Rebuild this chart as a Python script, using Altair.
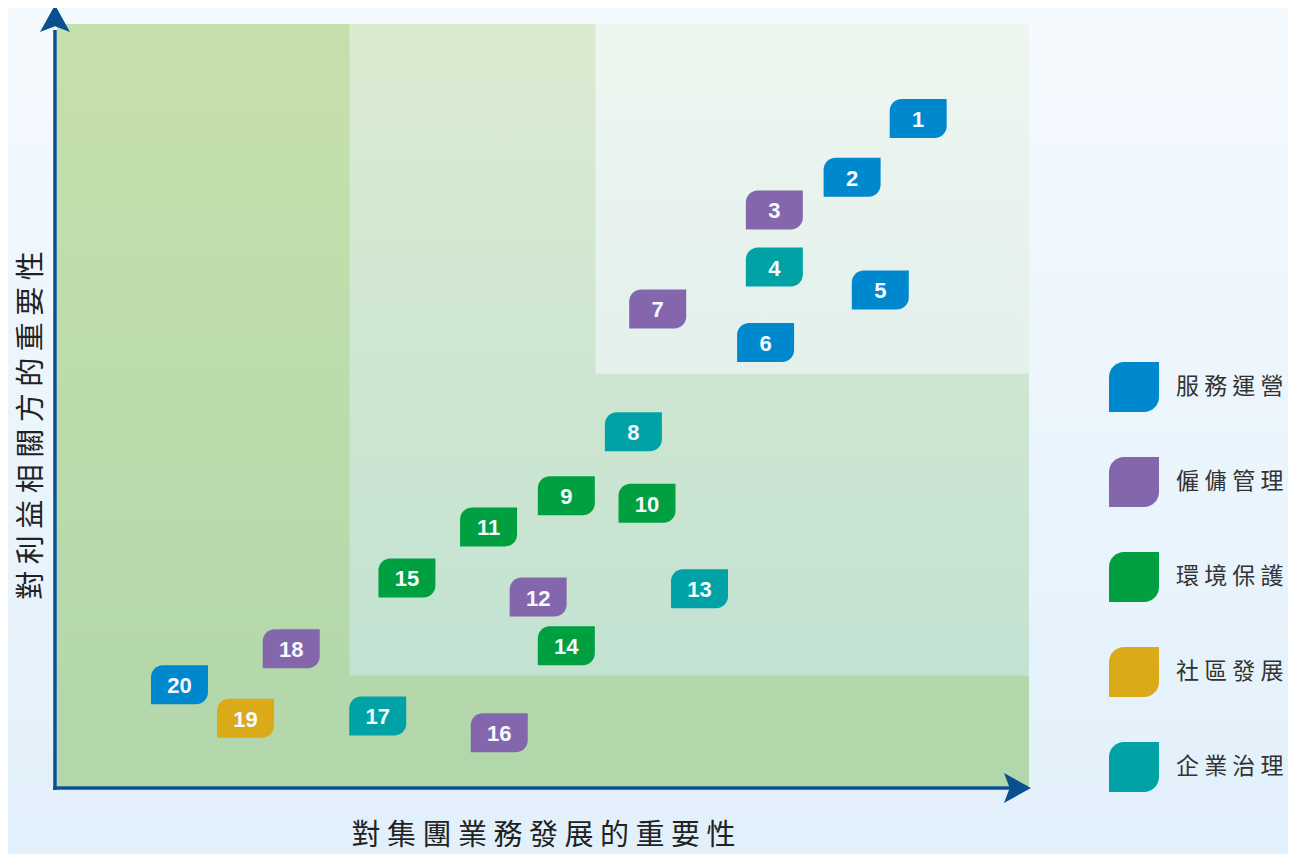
import altair as alt
import pandas as pd

# ---- data ----
ids = list(range(1, 21))
x_vals = [8.86, 8.18, 7.38, 7.38, 8.47, 7.29, 6.18, 5.93, 5.24, 6.07,
          4.44, 4.95, 6.61, 5.24, 3.60, 4.55, 3.30, 2.41, 1.94, 1.26]
y_vals = [8.76, 7.99, 7.56, 6.81, 6.51, 5.82, 6.26, 4.65, 3.81, 3.71,
          3.40, 2.48, 2.59, 1.84, 2.73, 0.70, 0.92, 1.80, 0.89, 1.33]
cats = ["服務運營", "服務運營", "僱傭管理", "企業治理", "服務運營", "服務運營", "僱傭管理",
        "企業治理", "環境保護", "環境保護", "環境保護", "僱傭管理", "企業治理", "環境保護",
        "環境保護", "僱傭管理", "企業治理", "僱傭管理", "社區發展", "服務運營"]
categories = ["服務運營", "僱傭管理", "環境保護", "社區發展", "企業治理"]
cat_colors = ["#0088cf", "#8466ad", "#00a040", "#dbaa18", "#00a2a6"]

# zone boundaries (in chart units)
zone_outer = {"x": [0.0], "x2": [10.0], "y": [0.0], "y2": [10.0]}
zone_mid = {"x": [3.01], "x2": [10.0], "y": [1.45], "y2": [10.0]}
zone_top = {"x": [5.54], "x2": [10.0], "y": [5.41], "y2": [10.0]}

x_title = "對集團業務發展的重要性"
y_title = "對利益相關方的重要性"

spaced = lambda s: " ".join(s)

df = pd.DataFrame({"id": [str(i) for i in ids], "x": x_vals, "y": y_vals,
                   "cat": [spaced(c) for c in cats]})

FONT = "Noto Sans CJK TC"
W, H = 972, 762
AXIS_COLOR = "#0a4f8e"

def grad(top, bottom):
    return alt.Gradient(gradient="linear", x1=0, x2=0, y1=0, y2=1,
                        stops=[alt.GradientStop(color=top, offset=0),
                               alt.GradientStop(color=bottom, offset=1)])

xscale = alt.Scale(domain=[0, 10], nice=False, zero=False)
yscale = alt.Scale(domain=[0, 10], nice=False, zero=False)

x_axis = alt.Axis(title=spaced(x_title), labels=False, ticks=False, domain=False, grid=False,
                  titleFont=FONT, titleFontSize=29, titleFontWeight="normal", titleColor="#222222",
                  titleX=486, titleY=49, titleAlign="center", titleBaseline="middle", zindex=2)
y_axis = alt.Axis(title=spaced(y_title), labels=False, ticks=False, domain=False, grid=False,
                  titleFont=FONT, titleFontSize=29, titleFontWeight="normal", titleColor="#222222",
                  titleX=-26, titleY=401, titleAlign="center", titleBaseline="middle", titleAngle=-90,
                  zindex=2)

bg = alt.Chart(pd.DataFrame({"a": [0]})).mark_rect(
    color=grad("#f5fafe", "#e2f0fb")
).encode(x=alt.value(-49), x2=alt.value(1231), y=alt.value(-16), y2=alt.value(830))

def zone(d, top, bottom):
    return alt.Chart(pd.DataFrame(d)).mark_rect(color=grad(top, bottom)).encode(
        x=alt.X("x:Q", scale=xscale, axis=x_axis), x2="x2:Q",
        y=alt.Y("y:Q", scale=yscale, axis=y_axis), y2="y2:Q")

z1 = zone(zone_outer, "#c6e0ac", "#b2d7ab")
z2 = zone(zone_mid, "#dbebd1", "#c3e2d2")
z3 = zone(zone_top, "#eef6ef", "#e3f0ec")

# axis lines and arrows
vline = alt.Chart(pd.DataFrame({"a": [0]})).mark_rule(color=AXIS_COLOR, strokeWidth=3.5).encode(
    x=alt.value(-2), y=alt.value(766), y2=alt.value(6))
hline = alt.Chart(pd.DataFrame({"a": [0]})).mark_rule(color=AXIS_COLOR, strokeWidth=3.5).encode(
    x=alt.value(-4), x2=alt.value(954), y=alt.value(764))
arrow_path = "M0,-0.9 L1,0.9 L0,0.52 L-1,0.9 Z"
varrow = alt.Chart(pd.DataFrame({"a": [0]})).mark_point(
    shape=arrow_path, filled=True, size=900, opacity=1, color=AXIS_COLOR, strokeWidth=0
).encode(x=alt.value(-2), y=alt.value(-5.5))
harrow = alt.Chart(pd.DataFrame({"a": [0]})).mark_point(
    shape=arrow_path, filled=True, size=900, opacity=1, color=AXIS_COLOR, strokeWidth=0, angle=90
).encode(x=alt.value(960.5), y=alt.value(764))

badge_path = ("M-1,-0.264 A0.42,0.42 0 0 1 -0.58,-0.684 L1,-0.684 L1,0.264 "
              "A0.42,0.42 0 0 1 0.58,0.684 L-1,0.684 Z")
legend_path = "M-1,-0.4 A0.6,0.6 0 0 1 -0.4,-1 L1,-1 L1,0.4 A0.6,0.6 0 0 1 0.4,1 L-1,1 Z"

badges = alt.Chart(df).mark_point(
    shape=badge_path, filled=True, size=3249, opacity=1, strokeWidth=0
).encode(
    x=alt.X("x:Q", scale=xscale, axis=x_axis),
    y=alt.Y("y:Q", scale=yscale, axis=y_axis),
    color=alt.Color("cat:N",
                    scale=alt.Scale(domain=[spaced(c) for c in categories], range=cat_colors),
                    legend=alt.Legend(title=None, orient="none", legendX=1052, legendY=338,
                                      symbolType=legend_path, symbolSize=2500, rowPadding=45,
                                      labelFont=FONT, labelFontSize=23, labelColor="#333333",
                                      labelOffset=17, symbolStrokeWidth=0, symbolOpacity=1,
                                      labelLimit=300)),
)

labels = alt.Chart(df).mark_text(
    font="Liberation Sans", fontWeight="bold", fontSize=22, color="#f4faff", dy=1.5
).encode(
    x=alt.X("x:Q", scale=xscale, axis=x_axis),
    y=alt.Y("y:Q", scale=yscale, axis=y_axis),
    text="id:N",
)

chart = alt.layer(bg, z1, z2, z3, vline, hline, varrow, harrow, badges, labels).properties(
    width=W, height=H,
    autosize=alt.AutoSizeParams(type="none"),
    padding={"left": 49, "top": 16, "right": 259, "bottom": 68},
).configure_view(stroke=None)

chart.save("out.html", embed_options={"renderer": "svg", "actions": False})
